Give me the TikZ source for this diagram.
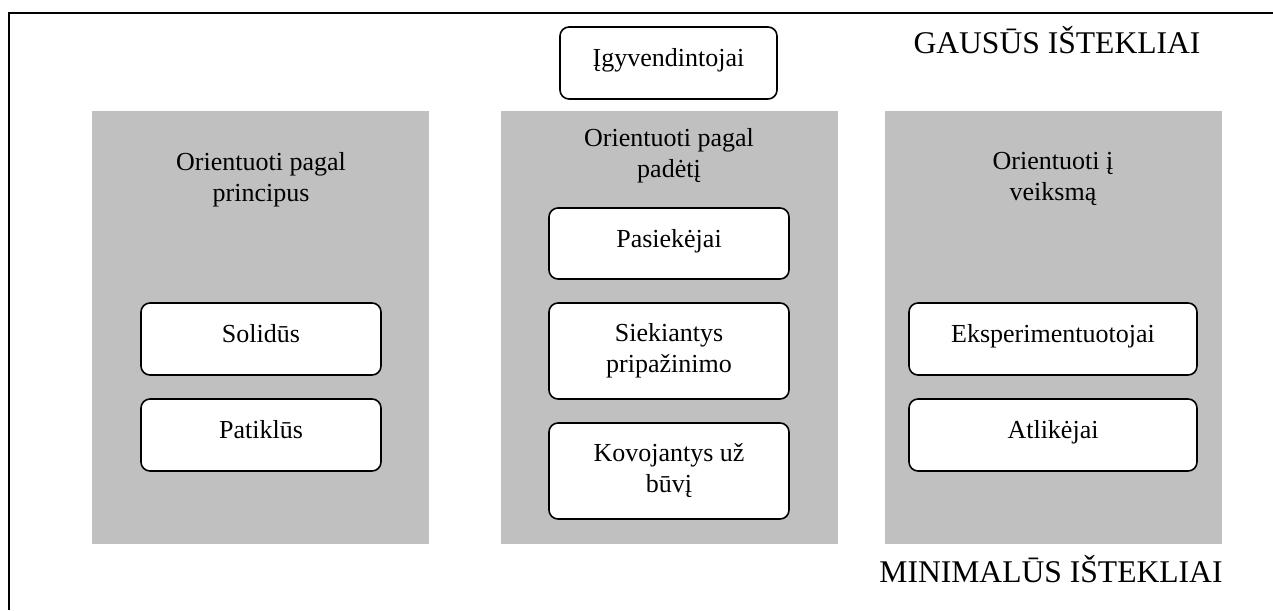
\documentclass[tikz,border=0pt]{standalone}
\usepackage{fontspec}
\setmainfont{Liberation Serif}
\usepackage{tikz}
\definecolor{pilka}{RGB}{192,192,192}

\begin{document}
\begin{tikzpicture}[x=0.5pt, y=-0.5pt,
    grupe/.style={draw, line width=0.8pt, rounded corners=4.5pt, fill=white,
        inner sep=0pt, align=center, font=\fontsize{13}{15.5}\selectfont},
    vienaeil/.style={text depth=5.5pt},
    antraste/.style={inner sep=0pt, anchor=north, align=center,
        font=\fontsize{13}{15.5}\selectfont},
    istekliai/.style={inner sep=0pt, anchor=base, font=\fontsize{15.8}{19}\selectfont}]

    \useasboundingbox (0,0) rectangle (1273,610);

    % Remelis (tik virsus ir kaire)
    \draw[line width=0.9pt] (9,610) -- (9,13) -- (1273,13);

    % Pilki stulpeliai
    \fill[pilka] (92,111) rectangle (429,544);
    \fill[pilka] (501,111) rectangle (838,544);
    \fill[pilka] (885,111) rectangle (1222,544);

    % Stulpeliu antrastes
    \node[antraste] (principai) at (261,152) {Orientuoti pagal\\principus};
    \node[antraste] (padetis) at (669,128) {Orientuoti pagal\\padėtį};
    \node[antraste] (veiksmas) at (1053,152) {Orientuoti į\\veiksmą};

    % Virsutinis langelis
    \node[grupe, vienaeil, minimum width=108.5pt, minimum height=36pt] (igyv) at (668.5,63) {Įgyvendintojai};

    % Kaire
    \node[grupe, vienaeil, minimum width=120pt, minimum height=36pt] (solid) at (261,339) {Solidūs};
    \node[grupe, vienaeil, minimum width=120pt, minimum height=36pt] (patikl) at (261,435) {Patiklūs};

    % Vidurys
    \node[grupe, vienaeil, minimum width=120pt, minimum height=35.5pt] (pasiek) at (669,243.5) {Pasiekėjai};
    \node[grupe, minimum width=120pt, minimum height=48pt] (pripaz) at (669,351) {Siekiantys\\pripažinimo};
    \node[grupe, minimum width=120pt, minimum height=48pt] (kovoj) at (669,471) {Kovojantys už\\būvį};

    % Desine
    \node[grupe, vienaeil, minimum width=144pt, minimum height=36pt] (eksp) at (1053,339) {Eksperimentuotojai};
    \node[grupe, vienaeil, minimum width=144pt, minimum height=36pt] (atlik) at (1053,435) {Atlikėjai};

    % Istekliu uzrasai
    \node[istekliai] (gausus) at (1057,54) {GAUSŪS IŠTEKLIAI};
    \node[istekliai] (minimal) at (1051,582) {MINIMALŪS IŠTEKLIAI};

\end{tikzpicture}
\end{document}
